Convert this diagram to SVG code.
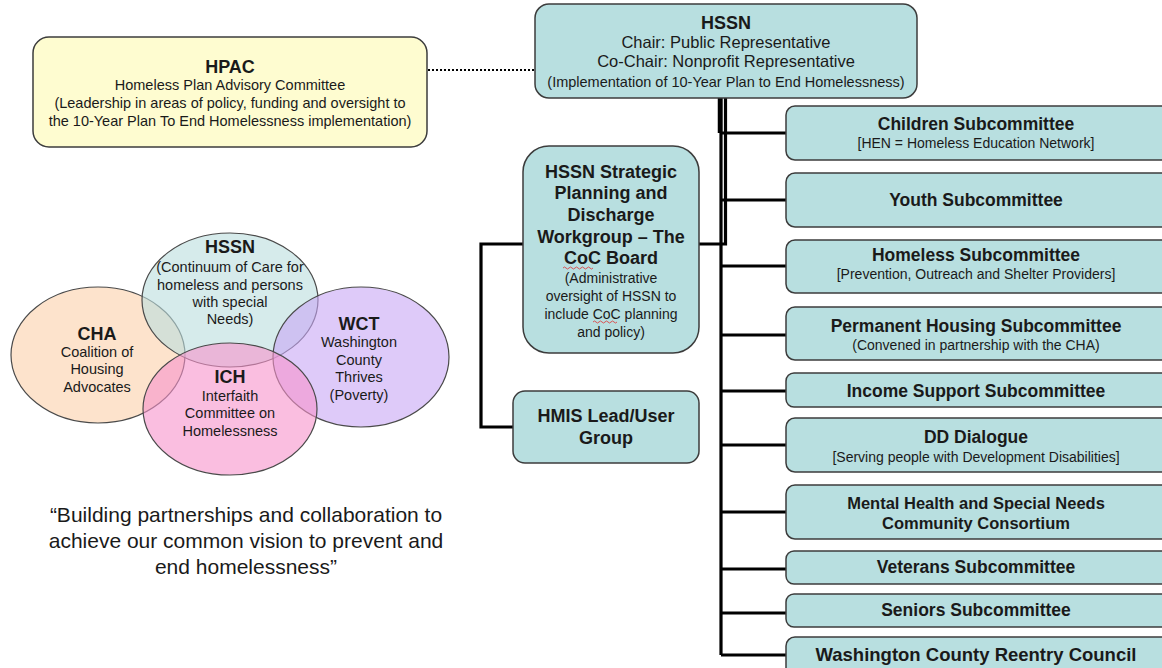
<svg xmlns="http://www.w3.org/2000/svg" width="1162" height="668" viewBox="0 0 1162 668">
<style>
text{font-family:"Liberation Sans",Arial,sans-serif;fill:#1a1a1a;text-anchor:middle}
.box{fill:#b8dfe0;stroke:#3c3c3c;stroke-width:1.5}
.hpac{fill:#fefcd0;stroke:#3c3c3c;stroke-width:1.5}
.t18{font-size:18px;font-weight:bold}
.sub{font-size:17.5px;font-weight:bold}
.s14{font-size:14px}
.s145{font-size:14.5px}
.conn{fill:none;stroke:#000;stroke-width:3.2}
.ven{stroke:#4a4a4a;stroke-width:1.2}
.vt{font-size:18px;font-weight:bold}
.quote{font-size:21px}
</style>
<rect width="1162" height="668" fill="#fff"/>

<g id="connectors">
<path class="conn" d="M721 98V655"/>
<path class="conn" d="M725.5 98V244H699"/>
<path d="M720 98V133" stroke="#000" stroke-width="4.5"/>
<path class="conn" d="M721 133H786M721 200H786M721 266H786M721 335H786M721 391H786M721 445H786M721 512H786M721 569H786M721 613H786M721 655H786"/>
<path class="conn" d="M523 244H481V427H513"/>
<path d="M428 70H535" stroke="#000" stroke-width="2" stroke-dasharray="2 2" fill="none"/>
</g>

<g id="hpac">
<rect class="hpac" x="33" y="37" width="394" height="110" rx="16"/>
<text class="t18" x="230" y="73">HPAC</text>
<text class="s145" x="230" y="90">Homeless Plan Advisory Committee</text>
<text class="s145" x="230" y="108">(Leadership in areas of policy, funding and oversight to</text>
<text class="s145" x="230" y="126">the 10-Year Plan To End Homelessness implementation)</text>
</g>

<g id="hssn">
<rect class="box" x="535" y="4" width="382" height="94" rx="14"/>
<text class="t18" x="726" y="29">HSSN</text>
<text x="726" y="48" font-size="16.5">Chair: Public Representative</text>
<text x="726" y="67" font-size="16.5">Co-Chair: Nonprofit Representative</text>
<text x="726" y="87" class="s145">(Implementation of 10-Year Plan to End Homelessness)</text>
</g>

<g id="strategic">
<rect class="box" x="523" y="146" width="176" height="207" rx="26"/>
<text class="t18" x="611" y="178">HSSN Strategic</text>
<text class="t18" x="611" y="199">Planning and</text>
<text class="t18" x="611" y="221">Discharge</text>
<text class="t18" x="611" y="243">Workgroup – The</text>
<text class="t18" x="611" y="264">CoC Board</text>
<text class="s14" x="611" y="283">(Administrative</text>
<text class="s14" x="611" y="301">oversight of HSSN to</text>
<text class="s14" x="611" y="319">include CoC planning</text>
<text class="s14" x="611" y="337">and policy)</text>
<path d="M563 268q1.5-2 3 0t3 0t3 0t3 0t3 0t3 0t3 0t3 0t3 0t3 0" fill="none" stroke="#e03030" stroke-width="0.8"/>
<path d="M593 322q1.5-2 3 0t3 0t3 0t3 0t3 0t3 0t3 0t3 0" fill="none" stroke="#e03030" stroke-width="0.8"/>
</g>

<g id="hmis">
<rect class="box" x="513" y="391" width="186" height="72" rx="12"/>
<text class="t18" x="606" y="422">HMIS Lead/User</text>
<text class="t18" x="606" y="444">Group</text>
</g>

<g id="children">
<rect class="box" x="786" y="106" width="390" height="54" rx="9"/>
<text class="sub" x="976" y="130">Children Subcommittee</text>
<text class="s14" x="976" y="148">[HEN = Homeless Education Network]</text>
</g>
<g id="youth">
<rect class="box" x="786" y="173" width="390" height="54" rx="9"/>
<text class="sub" x="976" y="206">Youth Subcommittee</text>
</g>
<g id="homeless">
<rect class="box" x="786" y="240" width="390" height="53" rx="9"/>
<text class="sub" x="976" y="261">Homeless Subcommittee</text>
<text class="s14" x="976" y="279">[Prevention, Outreach and Shelter Providers]</text>
</g>
<g id="permanent">
<rect class="box" x="786" y="307" width="390" height="53" rx="9"/>
<text class="sub" x="976" y="332">Permanent Housing Subcommittee</text>
<text class="s14" x="976" y="350">(Convened in partnership with the CHA)</text>
</g>
<g id="income">
<rect class="box" x="786" y="373" width="390" height="34" rx="8"/>
<text class="sub" x="976" y="397">Income Support Subcommittee</text>
</g>
<g id="dd">
<rect class="box" x="786" y="418" width="390" height="54" rx="9"/>
<text class="sub" x="976" y="443">DD Dialogue</text>
<text class="s14" x="976" y="462">[Serving people with Development Disabilities]</text>
</g>
<g id="mental">
<rect class="box" x="786" y="485" width="390" height="54" rx="9"/>
<text x="976" y="509" font-size="16.5" font-weight="bold">Mental Health and Special Needs</text>
<text x="976" y="529" font-size="16.5" font-weight="bold">Community Consortium</text>
</g>
<g id="veterans">
<rect class="box" x="786" y="551" width="390" height="33" rx="8"/>
<text class="sub" x="976" y="573">Veterans Subcommittee</text>
</g>
<g id="seniors">
<rect class="box" x="786" y="594" width="390" height="33" rx="8"/>
<text class="sub" x="976" y="616">Seniors Subcommittee</text>
</g>
<g id="reentry">
<rect class="box" x="786" y="637" width="390" height="50" rx="9"/>
<text x="976" y="661" font-size="18.5" font-weight="bold">Washington County Reentry Council</text>
</g>

<g id="venn">
<ellipse class="ven" cx="98" cy="355" rx="87" ry="68" fill="#fbd0aa" fill-opacity="0.6"/>
<ellipse class="ven" cx="230" cy="300" rx="88" ry="67" fill="#bbdddd" fill-opacity="0.6"/>
<ellipse class="ven" cx="361" cy="357" rx="88" ry="70" fill="#c8a6f5" fill-opacity="0.6"/>
<ellipse class="ven" cx="230" cy="409" rx="87" ry="66" fill="#f793cc" fill-opacity="0.6"/>
</g>
<g id="venn-hssn">
<text class="vt" x="230" y="253">HSSN</text>
<text class="s145" x="230" y="272">(Continuum of Care for</text>
<text class="s145" x="230" y="290">homeless and persons</text>
<text class="s145" x="230" y="307">with special</text>
<text class="s145" x="230" y="324">Needs)</text>
</g>
<g id="venn-cha">
<text class="vt" x="97" y="340">CHA</text>
<text class="s145" x="97" y="357">Coalition of</text>
<text class="s145" x="97" y="374">Housing</text>
<text class="s145" x="97" y="392">Advocates</text>
</g>
<g id="venn-wct">
<text class="vt" x="359" y="330">WCT</text>
<text class="s145" x="359" y="347">Washington</text>
<text class="s145" x="359" y="365">County</text>
<text class="s145" x="359" y="382">Thrives</text>
<text class="s145" x="359" y="400">(Poverty)</text>
</g>
<g id="venn-ich">
<text class="vt" x="230" y="383">ICH</text>
<text class="s145" x="230" y="401">Interfaith</text>
<text class="s145" x="230" y="418">Committee on</text>
<text class="s145" x="230" y="436">Homelessness</text>
</g>

<g id="quote">
<text class="quote" x="246" y="522">“Building partnerships and collaboration to</text>
<text class="quote" x="246" y="548">achieve our common vision to prevent and</text>
<text class="quote" x="246" y="574">end homelessness”</text>
</g>
</svg>
